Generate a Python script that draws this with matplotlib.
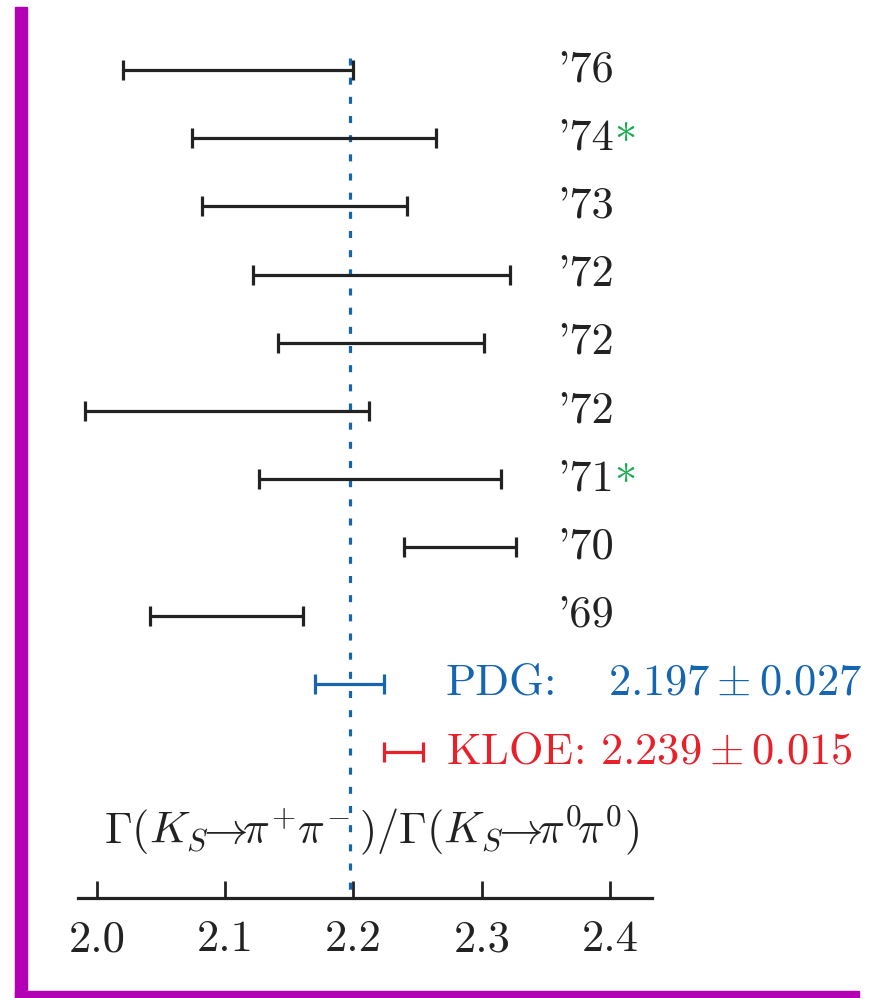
import matplotlib
matplotlib.use("Agg")
import matplotlib.pyplot as plt
from matplotlib.patches import Rectangle

plt.rcParams['font.family'] = 'serif'
plt.rcParams['font.serif'] = ['cmr10', 'DejaVu Serif']
plt.rcParams['mathtext.fontset'] = 'cm'
plt.rcParams['axes.unicode_minus'] = False
plt.rcParams['axes.formatter.use_mathtext'] = True

# data
years = ["'76", "'74", "'73", "'72", "'72", "'72", "'71", "'70", "'69"]
starred = [False, True, False, False, False, False, True, False, False]
lo = [2.020, 2.074, 2.082, 2.122, 2.141, 1.991, 2.126, 2.239, 2.041]
hi = [2.200, 2.264, 2.242, 2.322, 2.302, 2.212, 2.315, 2.327, 2.161]
pdg_val, pdg_err = 2.197, 0.027
kloe_val, kloe_err = 2.239, 0.015
xticks = [2.0, 2.1, 2.2, 2.3, 2.4]

W, H = 872, 998
fig = plt.figure(figsize=(W/100, H/100), dpi=100)
ax = fig.add_axes([78/W, (H-898)/H, (652-78)/W, 898/H])
ax.set_xlim(1.98519, 2.43275)
ax.set_ylim(12.14, -1.026)

black = '#222222'
blue = '#1565b0'
red = '#e8202a'
green = '#1aab50'
magenta = '#b400b4'

for i, (a, b) in enumerate(zip(lo, hi)):
    c = (a + b) / 2
    ax.errorbar([c], [i], xerr=[[c - a], [b - c]], fmt='none', ecolor=black,
                elinewidth=2.3, capsize=7.2, capthick=2.3, zorder=3)
    t = ax.text(2.3587, i, years[i], fontsize=32, color=black, va='center', ha='left',
                clip_on=False)
    if starred[i]:
        ax.annotate(r'$\ast$', xy=(1, 0.5), xycoords=t, xytext=(0.5, 6), textcoords='offset points',
                    fontsize=32, color=green, va='center', ha='left')

ip = len(lo)
ax.errorbar([pdg_val], [ip], xerr=[pdg_err], fmt='none', ecolor=blue,
            elinewidth=2.3, capsize=7.2, capthick=2.3, zorder=3)
ax.errorbar([kloe_val], [ip + 1], xerr=[kloe_err], fmt='none', ecolor=red,
            elinewidth=2.3, capsize=7.2, capthick=2.3, zorder=3)
ax.text(2.2718, ip, 'PDG:', fontsize=32, color=blue, va='center', ha='left', clip_on=False)
ax.text(2.3984, ip, r'$2.197\pm0.027$', fontsize=32, color=blue, va='center', ha='left',
        clip_on=False)
ax.text(2.2718, ip + 1, r'KLOE: $2.239\pm0.015$', fontsize=32, color=red,
        va='center', ha='left', clip_on=False)

ax.plot([pdg_val, pdg_val], [-0.18, 12.14], color=blue, lw=2.3,
        dashes=(2.2, 3.8), zorder=2, clip_on=False)

ax.text(2.2144, 11.15,
        r'$\Gamma(K_S\!\!\rightarrow\!\!\pi^{\!+}\!\pi^{\!-})/\Gamma(K_S\!\!\rightarrow\!\!\pi^{0}\!\pi^{0})$',
        fontsize=32, color=black, ha='center', va='center')

for s in ['top', 'left', 'right']:
    ax.spines[s].set_visible(False)
ax.spines['bottom'].set_linewidth(2.3)
ax.spines['bottom'].set_color(black)
ax.set_yticks([])
ax.set_xticks(xticks)
ax.set_xticklabels(['%.1f' % v for v in xticks])
ax.tick_params(axis='x', direction='in', length=12, width=2.0, color=black,
               labelsize=32, labelcolor=black, pad=16)
ax.patch.set_visible(False)

fig.patches.append(Rectangle((15/W, 0), 12/W, (H-7)/H, transform=fig.transFigure,
                             color=magenta, zorder=10))
fig.patches.append(Rectangle((15/W, 0), (859-15)/W, 7/H, transform=fig.transFigure,
                             color=magenta, zorder=10))

fig.savefig('out.png', dpi=100)
